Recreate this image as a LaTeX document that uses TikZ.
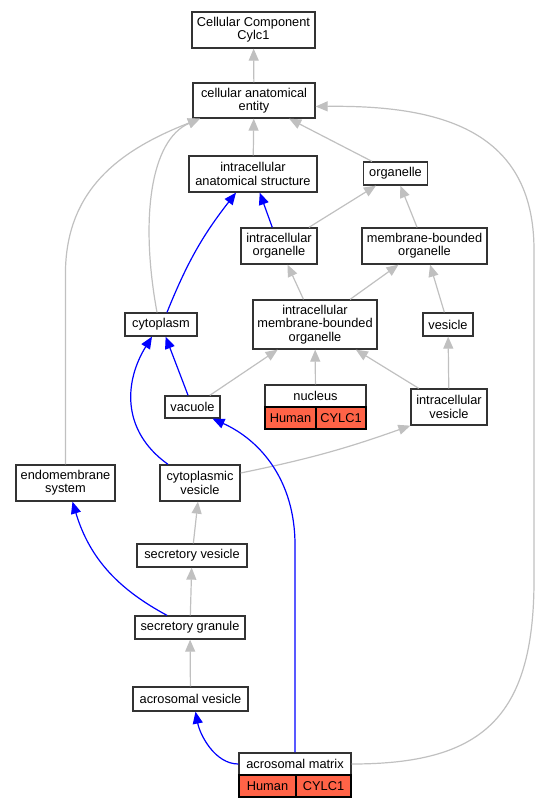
\documentclass[tikz,border=0pt]{standalone}
\usepackage{fontspec}
\setmainfont{Liberation Sans}
\usepackage{tikz}
\usetikzlibrary{arrows.meta}
\definecolor{GOSilver}{RGB}{192,192,192}
\definecolor{GOBlue}{RGB}{0,0,255}
\definecolor{GOBorder}{RGB}{51,51,51}
\definecolor{GOTomato}{RGB}{255,99,71}

\begin{document}
\begin{tikzpicture}[x=1pt, y=-1pt,
            term/.style={rectangle, draw=GOBorder, line width=1.3pt, fill=white,
                         inner sep=0pt, align=center,
                         font=\fontsize{12.8}{13.3}\selectfont},
            gene/.style={term, fill=GOTomato, draw=black},
            isa/.style={draw=GOSilver, line width=1.2pt,
                        -{Triangle[length=12pt, width=10pt]}},
            partof/.style={draw=GOBlue, line width=1.2pt,
                           -{Triangle[length=12pt, width=10pt]}}
          ]
          \useasboundingbox (0,0) rectangle (540,808);

          % Upper terms
          \node[term, minimum width=123, minimum height=36] (cc) at (253.5,30) {Cellular Component\\Cylc1};
          \node[term, minimum width=122, minimum height=35] (cae) at (254,100.5) {cellular anatomical\\entity};
          \node[term, minimum width=128, minimum height=36] (ias) at (253,174) {intracellular\\anatomical structure};
          \node[term, minimum width=64, minimum height=23] (org) at (395.5,173.5) {organelle};
          \node[term, minimum width=76, minimum height=36] (io) at (279,246) {intracellular\\organelle};
          \node[term, minimum width=125, minimum height=36] (mbo) at (424.5,246) {membrane-bounded\\organelle};

          % Middle terms
          \node[term, minimum width=72, minimum height=23] (cyt) at (161,324.5) {cytoplasm};
          \node[term, minimum width=124, minimum height=49] (imbo) at (315,324.5) {intracellular\\membrane-bounded\\organelle};
          \node[term, minimum width=50, minimum height=23] (ves) at (448,324.5) {vesicle};
          \node[term, minimum width=55, minimum height=22] (vac) at (192.5,407) {vacuole};
          \node[term, minimum width=76, minimum height=36] (iv) at (449,407) {intracellular\\vesicle};

          % nucleus with annotation
          \node[term, minimum width=101, minimum height=22] (nucl) at (315.5,396) {nucleus};
          \node[gene, minimum width=51, minimum height=22] (nuclhs) at (290.5,418) {Human};
          \node[gene, minimum width=50, minimum height=22] (nuclgn) at (341,418) {CYLC1};

          % Lower terms
          \node[term, minimum width=99, minimum height=36] (ems) at (65.5,483) {endomembrane\\system};
          \node[term, minimum width=80, minimum height=36] (cv) at (200,483) {cytoplasmic\\vesicle};
          \node[term, minimum width=110, minimum height=23] (sv) at (192,555.5) {secretory vesicle};
          \node[term, minimum width=110, minimum height=23] (sg) at (190,627.5) {secretory granule};
          \node[term, minimum width=115, minimum height=24] (av) at (190.5,699) {acrosomal vesicle};

          % acrosomal matrix with annotation
          \node[term, minimum width=112, minimum height=22] (amx) at (295,764) {acrosomal matrix};
          \node[gene, minimum width=57, minimum height=22] (amxhs) at (267.5,786) {Human};
          \node[gene, minimum width=55, minimum height=22] (amxgn) at (323.5,786) {CYLC1};

          % is_a edges
          \draw[isa] (cae) -- (cc);
          \draw[isa] (ias) -- (cae);
          \draw[isa] (org) -- (cae);
          \draw[isa] (io) -- (org);
          \draw[isa] (mbo) -- (org);
          \draw[isa] (imbo) -- (io);
          \draw[isa] (imbo) -- (mbo);
          \draw[isa] (ves) -- (mbo);
          \draw[isa] (vac) -- (imbo);
          \draw[isa] (nucl) -- (imbo);
          \draw[isa] (iv) -- (imbo);
          \draw[isa] (iv) -- (ves);
          \draw[isa] ([yshift=10]cv.east) to[bend right=4] (iv.south west);
          \draw[isa] (sv) -- (cv);
          \draw[isa] (sg) -- (sv);
          \draw[isa] (av) -- (sg);
          \draw[isa] ([xshift=-4]cyt.north) .. controls (140,220) and (150,140) .. ([xshift=-54]cae.south);
          \draw[isa] (ems.north) -- (65.5,280) .. controls (63,190) and (120,150) .. ([xshift=-54]cae.south);
          \draw[isa] (amx.east) .. controls (480,764) and (534,720) .. (534,580)
                -- (534,250) .. controls (534,130) and (440,105) .. ([yshift=-6]cae.east);

          % part_of edges
          \draw[partof] (io) -- (ias);
          \draw[partof] ([xshift=6]cyt.north) to[bend left=8] ([xshift=-17]ias.south);
          \draw[partof] (vac) -- (cyt);
          \draw[partof] ([xshift=-32]cv.north) .. controls (120,430) and (125,380) .. ([xshift=-9]cyt.south);
          \draw[partof] ([xshift=-23]sg.north) .. controls (120,590) and (90,560) .. ([xshift=7]ems.south);
          \draw[partof] (amx.west) .. controls (215,764) and (200,735) .. ([xshift=5]av.south);
          \draw[partof] (amx.north) -- (295,545) .. controls (295,480) and (260,440) .. ([xshift=20]vac.south);
        \end{tikzpicture}
\end{document}
